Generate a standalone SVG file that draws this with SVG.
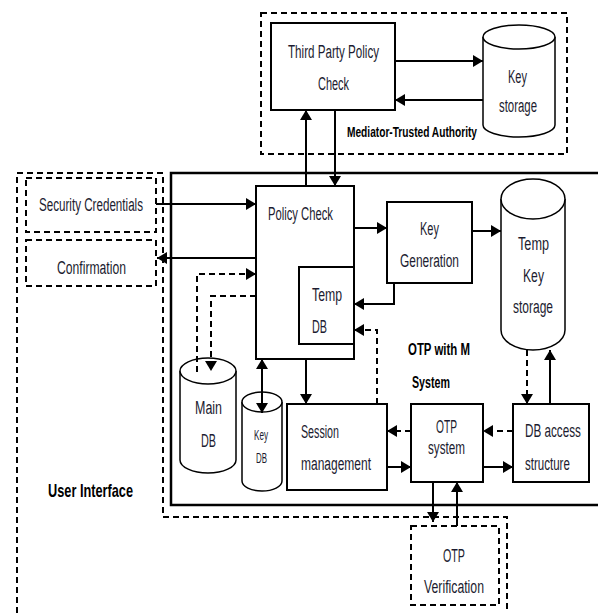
<svg xmlns="http://www.w3.org/2000/svg" width="598" height="613" viewBox="0 0 598 613">
<style>
.box{fill:#fff;stroke:#000;stroke-width:2}
.dbox{fill:none;stroke:#000;stroke-width:2;stroke-dasharray:6 4}
.cyl{fill:#fff;stroke:#000;stroke-width:1.5}
.t{font-family:"Liberation Sans",Arial,sans-serif;font-size:18px;fill:#1c1c30}
.s{font-size:14px}
.b{font-family:"Liberation Sans",Arial,sans-serif;font-weight:bold;fill:#000}
.ln{fill:none;stroke:#000;stroke-width:2}
.dl{fill:none;stroke:#000;stroke-width:2;stroke-dasharray:6 4}
.a{marker-end:url(#ah)}
.ab{marker-start:url(#ah);marker-end:url(#ah)}
</style>
<defs>
<marker id="ah" markerUnits="userSpaceOnUse" markerWidth="12" markerHeight="12" refX="10" refY="6" orient="auto-start-reverse">
<path d="M0,0 L10,6 L0,12 z" fill="#000"/>
</marker>
</defs>
<rect width="598" height="613" fill="#fff"/>

<g id="ui-region">
<path class="dbox" d="M17,613 V173 H163 V517 H507 V613"/>
<text class="b" x="48" y="497" font-size="19" textLength="85" lengthAdjust="spacingAndGlyphs">User Interface</text>
</g>

<g id="mediator-region">
<rect class="dbox" x="261" y="13" width="306" height="141"/>
<text class="b" x="347" y="137" font-size="15" textLength="130" lengthAdjust="spacingAndGlyphs">Mediator-Trusted Authority</text>
</g>

<g id="otp-system-region">
<path d="M600,173 H171 V505 H600" fill="none" stroke="#000" stroke-width="2.5"/>
<text class="b" x="408" y="355" font-size="16" textLength="62" lengthAdjust="spacingAndGlyphs">OTP with M</text>
<text class="b" x="412" y="388" font-size="16" textLength="38" lengthAdjust="spacingAndGlyphs">System</text>
</g>

<g id="third-party">
<rect class="box" x="271" y="23" width="124" height="87"/>
<text class="t" x="288" y="58" textLength="91" lengthAdjust="spacingAndGlyphs">Third Party Policy</text>
<text class="t" x="318" y="90" textLength="31" lengthAdjust="spacingAndGlyphs">Check</text>
</g>

<g id="key-storage">
<path class="cyl" d="M483,37 V125 A36,12 0 0 0 555,125 V37"/>
<ellipse class="cyl" cx="519" cy="37" rx="36" ry="12"/>
<text class="t" x="508" y="83" textLength="19" lengthAdjust="spacingAndGlyphs">Key</text>
<text class="t" x="499" y="112" textLength="38" lengthAdjust="spacingAndGlyphs">storage</text>
</g>

<g id="security-credentials">
<rect class="dbox" x="26" y="178" width="130" height="54"/>
<text class="t" x="39" y="211" textLength="104" lengthAdjust="spacingAndGlyphs">Security Credentials</text>
</g>

<g id="confirmation">
<rect class="dbox" x="26" y="240" width="130" height="46"/>
<text class="t" x="57" y="274" textLength="69" lengthAdjust="spacingAndGlyphs">Confirmation</text>
</g>

<g id="policy-check">
<rect class="box" x="256" y="186" width="98" height="173"/>
<text class="t" x="268" y="220" textLength="65" lengthAdjust="spacingAndGlyphs">Policy Check</text>
</g>

<g id="temp-db">
<rect class="box" x="299" y="267" width="55" height="77"/>
<text class="t" x="312" y="301" textLength="30" lengthAdjust="spacingAndGlyphs">Temp</text>
<text class="t" x="312" y="333" textLength="15" lengthAdjust="spacingAndGlyphs">DB</text>
</g>

<g id="key-generation">
<rect class="box" x="387" y="202" width="85" height="81"/>
<text class="t" x="420" y="235" textLength="19" lengthAdjust="spacingAndGlyphs">Key</text>
<text class="t" x="400" y="267" textLength="59" lengthAdjust="spacingAndGlyphs">Generation</text>
</g>

<g id="temp-key-storage">
<path class="cyl" d="M501,199 V330 A32,20 0 0 0 565,330 V199"/>
<ellipse class="cyl" cx="533" cy="199" rx="32" ry="20"/>
<text class="t" x="518" y="250" textLength="31" lengthAdjust="spacingAndGlyphs">Temp</text>
<text class="t" x="523" y="282" textLength="21" lengthAdjust="spacingAndGlyphs">Key</text>
<text class="t" x="513" y="313" textLength="40" lengthAdjust="spacingAndGlyphs">storage</text>
</g>

<g id="main-db">
<path class="cyl" d="M180,371 V460 A28,13 0 0 0 236,460 V371"/>
<ellipse class="cyl" cx="208" cy="371" rx="28" ry="13"/>
<text class="t" x="195" y="414" textLength="27" lengthAdjust="spacingAndGlyphs">Main</text>
<text class="t" x="201" y="447" textLength="15" lengthAdjust="spacingAndGlyphs">DB</text>
</g>

<g id="key-db">
<path class="cyl" d="M242,402 V481 A20,10 0 0 0 282,481 V402"/>
<ellipse class="cyl" cx="262" cy="402" rx="20" ry="10"/>
<text class="t s" x="254" y="440" textLength="14" lengthAdjust="spacingAndGlyphs">Key</text>
<text class="t s" x="256" y="463" textLength="11" lengthAdjust="spacingAndGlyphs">DB</text>
</g>

<g id="session-management">
<rect class="box" x="287" y="404" width="100" height="86"/>
<text class="t" x="301" y="438" textLength="38" lengthAdjust="spacingAndGlyphs">Session</text>
<text class="t" x="301" y="470" textLength="70" lengthAdjust="spacingAndGlyphs">management</text>
</g>

<g id="otp-system">
<rect class="box" x="411" y="404" width="72" height="78"/>
<text class="t" x="436" y="433" textLength="21" lengthAdjust="spacingAndGlyphs">OTP</text>
<text class="t" x="428" y="454" textLength="37" lengthAdjust="spacingAndGlyphs">system</text>
</g>

<g id="db-access">
<rect class="box" x="513" y="404" width="76" height="78"/>
<text class="t" transform="translate(525,437) scale(0.65,1)" x="0" y="0">DB access</text>
<text class="t" transform="translate(525,470) scale(0.64,1)" x="0" y="0">structure</text>
</g>

<g id="otp-verification">
<rect class="dbox" x="411" y="526" width="88" height="79"/>
<text class="t" x="443" y="562" textLength="22" lengthAdjust="spacingAndGlyphs">OTP</text>
<text class="t" x="424" y="593" textLength="60" lengthAdjust="spacingAndGlyphs">Verification</text>
</g>

<g id="connectors">
<path class="ln a" d="M395,61 H483"/>
<path class="ln a" d="M483,100 H395"/>
<path class="ln a" d="M306,186 V110"/>
<path class="ln a" d="M335,110 V186"/>
<path class="ln a" d="M156,204 H256"/>
<path class="ln a" d="M256,258 H157"/>
<path class="dl a" d="M197,372 V274 H256"/>
<path class="dl a" d="M256,296 H211 V371" stroke-width="1.6"/>
<path class="ln ab" d="M262,359 V413"/>
<path class="ln a" d="M354,228 H387"/>
<path class="ln a" d="M472,231 H501"/>
<path class="ln a" d="M394,283 V304 H354"/>
<path class="ln a" d="M306,359 V404"/>
<path class="dl a" d="M377,404 V330 H354"/>
<path class="dl a" d="M527,350 V404"/>
<path class="ln a" d="M550,404 V350"/>
<path class="dl a" d="M513,431 H483"/>
<path class="dl a" d="M411,431 H387"/>
<path class="ln a" d="M387,467 H411"/>
<path class="ln a" d="M483,467 H513"/>
<path class="ln a" d="M433,482 V522"/>
<path class="ln a" d="M457,526 V482"/>
</g>
</svg>
